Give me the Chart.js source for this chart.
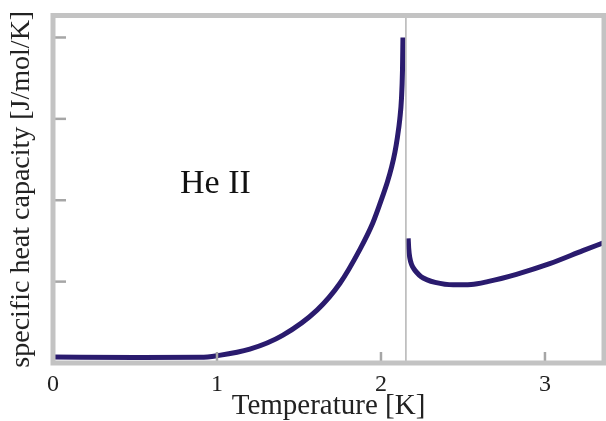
<!DOCTYPE html>
<html>
<head>
<meta charset="utf-8">
<script src="https://cdn.jsdelivr.net/npm/chart.js@4.4.1/dist/chart.umd.min.js"></script>
<style>
  html, body { margin: 0; padding: 0; background: #fff; }
  #wrap { width: 606px; height: 421px; }
</style>
</head>
<body>
<div id="wrap"><canvas id="heChart"></canvas></div>
<script>
// He II branch (below the lambda point)
var leftT = [0, 0.5, 0.9, 1.0, 1.2, 1.4, 1.61, 1.75, 1.87, 1.95, 2.01, 2.04, 2.065, 2.085, 2.10, 2.115, 2.125, 2.131, 2.134];
var leftC = [0.074, 0.068, 0.07, 0.09, 0.17, 0.34, 0.65, 0.98, 1.39, 1.72, 2.05, 2.23, 2.41, 2.59, 2.77, 3.0, 3.25, 3.58, 4.0];
// He I branch (above the lambda point)
var rightT = [2.166, 2.169, 2.176, 2.187, 2.2, 2.217, 2.245, 2.278, 2.33, 2.44, 2.55, 2.65, 2.826, 3.029, 3.231, 3.36];
var rightC = [1.53, 1.41, 1.29, 1.21, 1.16, 1.115, 1.06, 1.025, 0.99, 0.96, 0.965, 1.0, 1.09, 1.22, 1.38, 1.48];

var lambdaT = 2.152;
var xTicks = [0, 1, 2, 3];
var yTicks = [1, 2, 3, 4];
var xMax = 3.36, yMax = 4.27;

var serif = "'Liberation Serif', 'Times New Roman', serif";
var curveColor = '#2a1b6e';
var frameColor = '#c3c3c3';

function pts(xs, ys) {
  return xs.map(function (v, i) { return { x: v, y: ys[i] }; });
}

var framePlugin = {
  id: 'frame',
  afterDatasetsDraw: function (chart) {
    var ctx = chart.ctx, a = chart.chartArea;
    var xs = chart.scales.x, ys = chart.scales.y;
    ctx.save();
    // inner tick marks
    ctx.strokeStyle = '#a6a6a6';
    ctx.lineWidth = 2.5;
    xTicks.forEach(function (v) {
      if (v === 0) return;
      var px = xs.getPixelForValue(v);
      ctx.beginPath();
      ctx.moveTo(px, a.bottom);
      ctx.lineTo(px, a.bottom - 11);
      ctx.stroke();
    });
    yTicks.forEach(function (v) {
      var py = ys.getPixelForValue(v);
      ctx.beginPath();
      ctx.moveTo(a.left, py);
      ctx.lineTo(a.left + 13, py);
      ctx.stroke();
    });
    // frame
    ctx.strokeStyle = frameColor;
    ctx.lineWidth = 5;
    ctx.strokeRect(a.left, a.top, a.right - a.left, a.bottom - a.top);
    // label
    ctx.fillStyle = '#111';
    ctx.font = '34px ' + serif;
    ctx.textBaseline = 'alphabetic';
    ctx.fillText('He II', 180, 193);
    ctx.restore();
  }
};

new Chart(document.getElementById('heChart'), {
  type: 'line',
  data: {
    datasets: [
      {
        label: 'lambda',
        data: pts([lambdaT, lambdaT], [0, yMax]),
        borderColor: '#b4b4b4',
        borderWidth: 1.5,
        pointRadius: 0,
      },
      {
        label: 'He II',
        data: pts(leftT, leftC),
        borderColor: curveColor,
        borderWidth: 5,
        borderCapStyle: 'butt',
        cubicInterpolationMode: 'monotone',
        pointRadius: 0,
      },
      {
        label: 'He I',
        data: pts(rightT, rightC),
        borderColor: curveColor,
        borderWidth: 5,
        borderCapStyle: 'butt',
        cubicInterpolationMode: 'monotone',
        pointRadius: 0,
      },
    ],
  },
  options: {
    responsive: true,
    maintainAspectRatio: false,
    devicePixelRatio: 1,
    animation: false,
    layout: { padding: { left: 0, top: 15.5, right: 2, bottom: 0 } },
    plugins: {
      legend: { display: false },
      tooltip: { enabled: false },
    },
    scales: {
      x: {
        type: 'linear',
        min: 0,
        max: xMax,
        afterBuildTicks: function (s) { s.ticks = xTicks.map(function (v) { return { value: v }; }); },
        afterFit: function (s) { s.height = 58; },
        grid: { display: false, drawTicks: false },
        border: { display: false },
        ticks: { color: '#222', padding: 7, maxRotation: 0, font: { family: serif, size: 24 } },
        title: { display: true, text: 'Temperature [K]', color: '#222', padding: 0, font: { family: serif, size: 29, lineHeight: 1 } },
      },
      y: {
        type: 'linear',
        min: 0,
        max: yMax,
        afterBuildTicks: function (s) { s.ticks = yTicks.map(function (v) { return { value: v }; }); },
        afterFit: function (s) { s.width = 53; },
        grid: { display: false, drawTicks: false },
        border: { display: false },
        ticks: { display: false },
        title: { display: true, text: 'specific heat capacity [J/mol/K]', color: '#222', padding: { top: 8, bottom: 0 }, font: { family: serif, size: 28, lineHeight: 1 } },
      },
    },
  },
  plugins: [framePlugin],
});
</script>
</body>
</html>
